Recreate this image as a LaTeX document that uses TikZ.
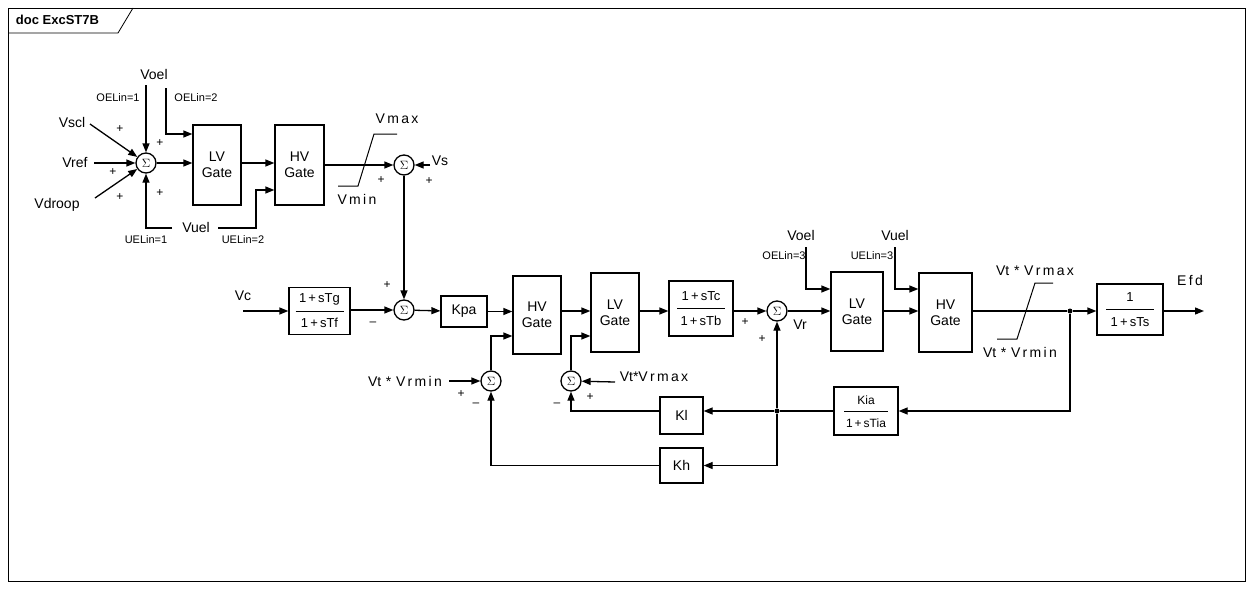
\documentclass[tikz,border=0pt]{standalone}
\usepackage{fontspec}
\setmainfont{Liberation Sans}
\usetikzlibrary{arrows.meta}
\begin{document}
\begin{tikzpicture}[x=1pt,y=-1pt,line width=1.3pt,
  font=\fontsize{14}{16}\selectfont,
  blk/.style={draw,minimum width=#1,inner sep=0pt},
  sumc/.style={draw,circle,minimum size=20pt,inner sep=0pt,font=\fontsize{13}{13}\selectfont},
  sml/.style={font=\fontsize{11}{12}\selectfont},
  pl/.style={font=\fontsize{12}{12}\selectfont},
  ar/.style={-{Triangle[length=9pt,width=7pt]}},
  dot/.style={circle,fill,inner sep=0pt,minimum size=5pt}]
\useasboundingbox (0,0) rectangle (1253,589);
\draw[line width=0.8pt] (8,8) rectangle (1245,581);
\draw[line width=0.8pt] (8,33) -- (118,33) -- (133,8);
\node[anchor=west,font=\bfseries\fontsize{13}{14}\selectfont] (title) at (12,20) {doc ExcST7B};
% sum1 group
\node[sumc] (s1) at (146,163) {$\Sigma$};
\node (vscl) at (72,122) {Vscl};
\node (vref) at (75,163) {Vref};
\node (vdroop) at (57,205) {Vdroop};
\coordinate (vscle) at (90,124);
\coordinate (vrefe) at (94,163);
\coordinate (vdre) at (95,198);
\draw[ar] (vscle) -- (s1);
\draw[ar] (vrefe) -- (s1);
\draw[ar] (vdre) -- (s1);
\node (voel) at (154,74) {Voel};
\node[sml] (oe1) at (118,98) {OELin=1};
\node[sml] (oe2) at (196,98) {OELin=2};
\coordinate (voa) at (146,85);
\draw[ar] (voa) -- (s1);
\node[blk=48pt,minimum height=80pt,align=center] (lv1) at (217,165) {LV\\Gate};
\node[blk=49pt,minimum height=80pt,align=center] (hv1) at (299.5,165) {HV\\Gate};
\coordinate (vob) at (166,88);
\draw[ar] (vob) |- (lv1.west |- 0,134);
\draw[ar] (s1) -- (s1 -| lv1.west);
\draw[ar] (lv1.east |- 0,163) -- (hv1.west |- 0,163);
\node (vuel) at (196,227) {Vuel};
\node[sml] (ue1) at (146,240) {UELin=1};
\node[sml] (ue2) at (243,240) {UELin=2};
\coordinate (vua) at (172,228);
\coordinate (vub) at (218,228);
\draw[ar] (vua) -| (s1);
\draw[ar] (vub) -- (256,228) |- (hv1.west |- 0,190);
\node[pl] at (120,129) {+};
\node[pl] at (160,143) {+};
\node[pl] at (113,172) {+};
\node[pl] at (120,197) {+};
\node[pl] at (160,193) {+};
% limiter 1 and sum2
\node[sumc] (s2) at (404,165) {$\Sigma$};
\draw[ar] (hv1.east |- s2) -- (s2);
\draw[line width=1pt] (338,186) -- (358,186) -- (374,134) -- (397,134);
\node (vmax) at (397,119) {V\,m\,a\,x};
\node (vmin) at (357,199) {V\,m\,i\,n};
\node[pl] at (381,180) {+};
\node (vs) at (440,161) {Vs};
\coordinate (vse) at (430,165);
\draw[ar] (vse) -- (s2);
\node[pl] at (429,181) {+};
% middle row
\node[sumc] (s3) at (404,310) {$\Sigma$};
\draw[ar] (s2) -- (s3);
\node (vc) at (243,296) {Vc};
\node[blk=61pt,minimum height=47pt] (tg) at (319.5,311) {};
\draw[line width=0.8pt] (295.5,311) -- (343.5,311);
\node[font=\fontsize{13}{13}\selectfont] at (319.5,299) {1\,+\,sTg};
\node[font=\fontsize{13}{13}\selectfont] at (319.5,323) {1\,+\,sTf};
\coordinate (vce) at (243,311);
\draw[ar] (vce) -- (tg.west);
\draw[ar] (tg.east |- s3) -- (s3);
\node[pl] at (373,324) {--};
\node[pl] at (387,285) {+};
\node[blk=46pt,minimum height=31pt] (kpa) at (464,311.5) {Kpa};
\draw[ar] (s3) -- (kpa);
\node[blk=48pt,minimum height=78pt,align=center] (hv2) at (537,315) {HV\\Gate};
\draw[ar] (kpa.east) -- (kpa.east -| hv2.west);
\node[blk=48pt,minimum height=79pt,align=center] (lv2) at (615,312.5) {LV\\Gate};
\draw[ar] (hv2.east |- 0,311) -- (lv2.west |- 0,311);
\node[blk=64pt,minimum height=55pt] (tc) at (701,308.5) {};
\draw[line width=0.8pt] (677,308.5) -- (725,308.5);
\node[font=\fontsize{13}{13}\selectfont] at (701,296) {1\,+\,sTc};
\node[font=\fontsize{13}{13}\selectfont] at (701,321) {1\,+\,sTb};
\node[sumc] (s4) at (777,311) {$\Sigma$};
\draw[ar] (lv2.east |- 0,311) -- (tc.west |- 0,311);
\draw[ar] (tc.east |- s4) -- (s4);
\node[pl] at (745,322) {+};
\node[pl] at (762,339) {+};
\node (vr) at (800,325) {Vr};
\node[blk=52pt,minimum height=79pt,align=center] (lv3) at (857,311.5) {LV\\Gate};
\draw[ar] (s4) -- (s4 -| lv3.west);
\node (voel3) at (801,235) {Voel};
\node[sml] (oe3) at (784,256) {OELin=3};
\coordinate (vo3) at (806,247);
\draw[ar] (vo3) |- (lv3.west |- 0,289);
\node[blk=53pt,minimum height=79pt,align=center] (hv3) at (945.5,312.5) {HV\\Gate};
\draw[ar] (lv3.east |- 0,311) -- (hv3.west |- 0,311);
\node (vuel3) at (895,235) {Vuel};
\node[sml] (ue3) at (872,256) {UELin=3};
\coordinate (vu3) at (895,247);
\draw[ar] (vu3) |- (hv3.west |- 0,289);
\node[dot] (d1) at (1070,311) {};
\draw (hv3.east |- d1) -- (d1);
\draw[line width=1pt] (997,339) -- (1017,339) -- (1035,283) -- (1053,283);
\node (vrmax) at (1035,271) {Vt\,\,*\,\,V\,r\,m\,a\,x};
\node (vrmin) at (1020,352) {Vt\,\,*\,\,V\,r\,m\,i\,n};
\node[blk=66pt,minimum height=51pt] (ts) at (1130,309.5) {};
\draw[line width=0.8pt] (1106,309.5) -- (1154,309.5);
\node[font=\fontsize{13}{13}\selectfont] at (1130,297) {1};
\node[font=\fontsize{13}{13}\selectfont] at (1130,322) {1\,+\,sTs};
\draw[ar] (d1) -- (d1 -| ts.west);
\node (efd) at (1190,280) {E\,f\,d};
\coordinate (efde) at (1204,311);
\draw[ar] (ts.east |- d1) -- (efde);
% feedback
\node[blk=64pt,minimum height=48pt] (kia) at (866,411) {};
\draw[line width=0.8pt] (844,411) -- (888,411);
\node[font=\fontsize{12}{12}\selectfont] at (866,400) {Kia};
\node[font=\fontsize{12}{12}\selectfont] at (866,423) {1\,+\,sTia};
\draw[ar] (d1) |- (kia.east);
\node[dot] (d2) at (777,411) {};
\draw (kia.west) -- (d2);
\draw[ar] (d2) -- (s4);
\node[blk=43pt,minimum height=37pt] (kl) at (681.5,415.5) {Kl};
\draw[ar] (d2) -- (d2 -| kl.east);
\node[blk=43pt,minimum height=35pt] (kh) at (681.5,465.5) {Kh};
\draw[ar] (d2) |- (kh.east);
\node[sumc] (s5) at (491,381) {$\Sigma$};
\node[sumc] (s6) at (571,381) {$\Sigma$};
\draw[ar] (kl.west |- d2) -| (s6);
\draw[ar] (kh.west) -| (s5);
\draw[ar] (s5) |- (hv2.west |- 0,336);
\draw[ar] (s6) |- (lv2.west |- 0,336);
\node (vtmin) at (405,381) {Vt\,\,*\,\,V\,r\,m\,i\,n};
\coordinate (vtmine) at (449,381);
\draw[ar] (vtmine) -- (s5);
\node[pl] at (461,394) {+};
\node[pl] at (476,405) {--};
\node (vtmax) at (654,377) {Vt*V\,r\,m\,a\,x};
\coordinate (vtmaxe) at (615,382);
\draw[ar] (vtmaxe) -- (s6);
\node[pl] at (557,405) {--};
\node[pl] at (590,397) {+};
\end{tikzpicture}
\end{document}
